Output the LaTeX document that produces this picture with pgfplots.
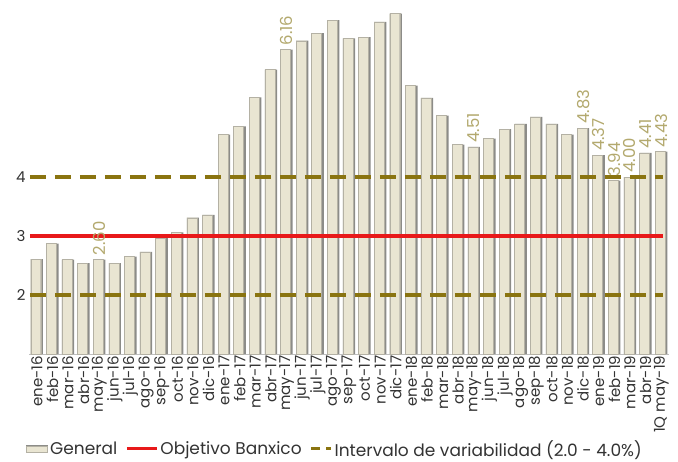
\documentclass[border=0pt]{standalone}
\usepackage{pgfplots}
\pgfplotsset{compat=1.18}
\usepackage{pgfplotstable}
\usepackage{fontspec}
\setmainfont{Poppins}

\definecolor{barfill}{HTML}{E9E5D2}
\definecolor{baredge}{HTML}{B4B1A4}
\definecolor{barshadow}{HTML}{8C8C88}
\definecolor{objrojo}{HTML}{E8191A}
\definecolor{intervalo}{HTML}{8A7410}
\definecolor{etiqueta}{HTML}{B3A96E}
\definecolor{texto}{HTML}{333333}

% Inflacion general anual (%), ene-16 a 1Q may-19
\pgfplotstableread{
x y lab
0  2.61 {}
1  2.87 {}
2  2.60 {}
3  2.54 {}
4  2.60 2.60
5  2.54 {}
6  2.65 {}
7  2.73 {}
8  2.97 {}
9  3.06 {}
10 3.31 {}
11 3.36 {}
12 4.72 {}
13 4.86 {}
14 5.35 {}
15 5.82 {}
16 6.16 6.16
17 6.31 {}
18 6.44 {}
19 6.66 {}
20 6.35 {}
21 6.37 {}
22 6.63 {}
23 6.77 {}
24 5.55 {}
25 5.34 {}
26 5.04 {}
27 4.55 {}
28 4.51 4.51
29 4.65 {}
30 4.81 {}
31 4.90 {}
32 5.02 {}
33 4.90 {}
34 4.72 {}
35 4.83 4.83
36 4.37 4.37
37 3.94 3.94
38 4.00 4.00
39 4.41 4.41
40 4.43 4.43
}\inflacion

\begin{document}
\begin{tikzpicture}
\useasboundingbox (-29pt,-107pt) rectangle (649pt,354pt);
\begin{axis}[
  scale only axis,
  width=640pt, height=354pt,
  xmin=-0.5, xmax=40.5,
  ymin=1, ymax=7,
  axis x line*=bottom,
  axis y line*=left,
  y axis line style={draw=none},
  x axis line style={draw=gray!50},
  ytick={2,3,4},
  ytick style={draw=none},
  yticklabel style={font=\fontsize{15}{15}\selectfont, text=texto},
  /pgf/number format/assume math mode=true,
  xtick={0,...,40},
  xticklabels={ene-16,feb-16,mar-16,abr-16,may-16,jun-16,jul-16,ago-16,sep-16,oct-16,nov-16,dic-16,
    ene-17,feb-17,mar-17,abr-17,may-17,jun-17,jul-17,ago-17,sep-17,oct-17,nov-17,dic-17,
    ene-18,feb-18,mar-18,abr-18,may-18,jun-18,jul-18,ago-18,sep-18,oct-18,nov-18,dic-18,
    ene-19,feb-19,mar-19,abr-19,1Q may-19},
  xticklabel style={rotate=90, anchor=east, font=\fontsize{15}{15}\selectfont, text=texto, inner sep=1.5pt},
  xtick style={draw=none},
  extra x ticks={-0.5,0.5,...,40.5},
  extra x tick labels={},
  extra x tick style={tick style={draw=gray!60, thin}, major tick length=5pt, tick align=outside},
  legend columns=3,
  legend style={at={(axis description cs:0.478,-0.268)}, anchor=center, draw=none, fill=none,
    font=\fontsize{17}{17}\selectfont, text=texto, inner sep=1pt,
    /tikz/every even column/.append style={column sep=6pt}},
  clip=false,
]
% grey body of each bar, seen as a shadow on its right side
\addplot[ybar, bar width=0.78, bar shift=0, draw=none, fill=barshadow,
  point meta=explicit symbolic,
  nodes near coords,
  nodes near coords style={rotate=90, anchor=west, font=\fontsize{16.5}{16.5}\selectfont, text=etiqueta, inner sep=4pt},
  legend image code/.code={\fill[barshadow] (0pt,-3.5pt) rectangle (22pt,3.5pt);
    \draw[draw=baredge, fill=barfill] (0pt,-3.5pt) rectangle (21pt,2.5pt);}]
  table[x=x, y=y, meta=lab] {\inflacion};
\addlegendentry{General}
% light face of each bar
\addplot[ybar, bar width=0.64, bar shift=-0.07, draw=baredge, line width=0.4pt, fill=barfill, forget plot]
  table[x=x, y=y] {\inflacion};
\addplot[objrojo, line width=3.5pt,
  legend image code/.code={\draw[objrojo, line width=3pt] (0pt,0pt) -- (30pt,0pt);}]
  coordinates {(-0.45,3) (40.1,3)};
\addlegendentry{Objetivo Banxico}
\addplot[intervalo, line width=4pt, dash pattern=on 16pt off 9pt,
  legend image code/.code={\draw[intervalo, line width=3pt, dash pattern=on 9pt off 6pt] (0pt,0pt) -- (20pt,0pt);}]
  coordinates {(-0.45,4) (40.1,4)};
\addlegendentry{Intervalo de variabilidad (2.0 - 4.0\%)}
\addplot[intervalo, line width=4pt, dash pattern=on 16pt off 9pt, forget plot]
  coordinates {(-0.45,2) (40.1,2)};
\end{axis}
\end{tikzpicture}
\end{document}
